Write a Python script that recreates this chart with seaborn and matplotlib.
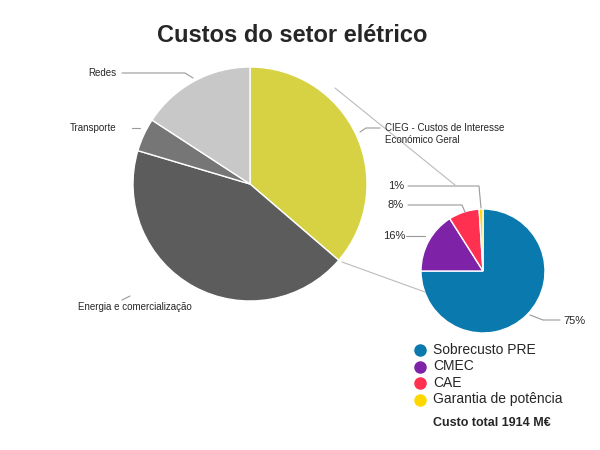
import matplotlib
matplotlib.use("Agg")
import matplotlib.pyplot as plt
import seaborn as sns
from matplotlib.lines import Line2D

sns.set_theme(style="white")
plt.rcParams['font.family'] = ['Liberation Sans', 'DejaVu Sans']

main_labels = ["CIEG - Custos de Interesse\nEconómico Geral", "Energia e comercialização", "Transporte", "Redes"]
main_values = [36.3, 43.3, 4.6, 15.8]
main_colors = ["#D6D243", "#5C5C5C", "#767676", "#C8C8C8"]

sub_labels = ["Sobrecusto PRE", "CMEC", "CAE", "Garantia de potência"]
sub_values = [75, 16, 8, 1]
sub_colors = ["#0A7AAE", "#7E22A8", "#FF3050", "#FFD700"]

W, H = 600, 450
fig = plt.figure(figsize=(6, 4.5), dpi=100)

def pie_ax(cx, cy, r):
    ax = fig.add_axes([(cx - r) / W, (H - cy - r) / H, 2 * r / W, 2 * r / H])
    ax.set_xlim(-1, 1); ax.set_ylim(-1, 1); ax.axis("off")
    return ax

ax1 = pie_ax(250, 184, 117)
ax1.pie(main_values, colors=main_colors, startangle=90, counterclock=False, radius=1, frame=False)
ax1.set_xlim(-1, 1); ax1.set_ylim(-1, 1)
ax2 = pie_ax(483, 271, 62)
ax2.pie(sub_values, colors=sub_colors, startangle=90, counterclock=False, radius=1, frame=False)
ax2.set_xlim(-1, 1); ax2.set_ylim(-1, 1)

def line(pts, color="#999999"):
    xs = [p[0] / W for p in pts]; ys = [1 - p[1] / H for p in pts]
    fig.add_artist(Line2D(xs, ys, color=color, lw=0.8, transform=fig.transFigure))

def txt(x, y, s, **kw):
    fig.text(x / W, 1 - y / H, s, **kw)

txt(292, 35, "Custos do setor elétrico", ha="center", va="center", fontsize=17, fontweight="bold")

# connector lines between pies
line([(335, 88), (455, 185)], "#BBBBBB")
line([(342, 262), (425, 292)], "#BBBBBB")

# main labels
txt(88, 73, "Redes", ha="left", va="center", fontsize=7)
line([(122, 73), (185, 73), (193, 78)])
txt(70, 128, "Transporte", ha="left", va="center", fontsize=7)
line([(132, 128), (140, 128)])
txt(78, 307, "Energia e comercialização", ha="left", va="center", fontsize=7)
line([(122, 300), (130, 296)])
txt(385, 134, "CIEG - Custos de Interesse\nEconómico Geral", ha="left", va="center", fontsize=7, linespacing=1.3)
line([(360, 132), (366, 128), (380, 128)])

# sub labels
txt(388, 186, "1%", ha="left", va="center", fontsize=8)
line([(408, 186), (479, 186), (481, 208)])
txt(388, 205, "8%", ha="left", va="center", fontsize=8)
line([(408, 205), (462, 205), (465, 212)])
txt(383, 236, "16%", ha="left", va="center", fontsize=8)
line([(406, 236), (425, 236)])
txt(563, 321, "75%", ha="left", va="center", fontsize=8)
line([(530, 315), (543, 320), (560, 320)])

# legend
for i, (lab, c) in enumerate(zip(sub_labels, sub_colors)):
    y = 350 + i * 16.5
    fig.add_artist(Line2D([420 / W], [1 - y / H], marker="o", markersize=8, color=c, lw=0,
                          transform=fig.transFigure))
    txt(433, y, lab, ha="left", va="center", fontsize=10)
txt(433, 423, "Custo total 1914 M€", ha="left", va="center", fontsize=9, fontweight="bold")

fig.savefig("out.png", dpi=100, facecolor="white")
